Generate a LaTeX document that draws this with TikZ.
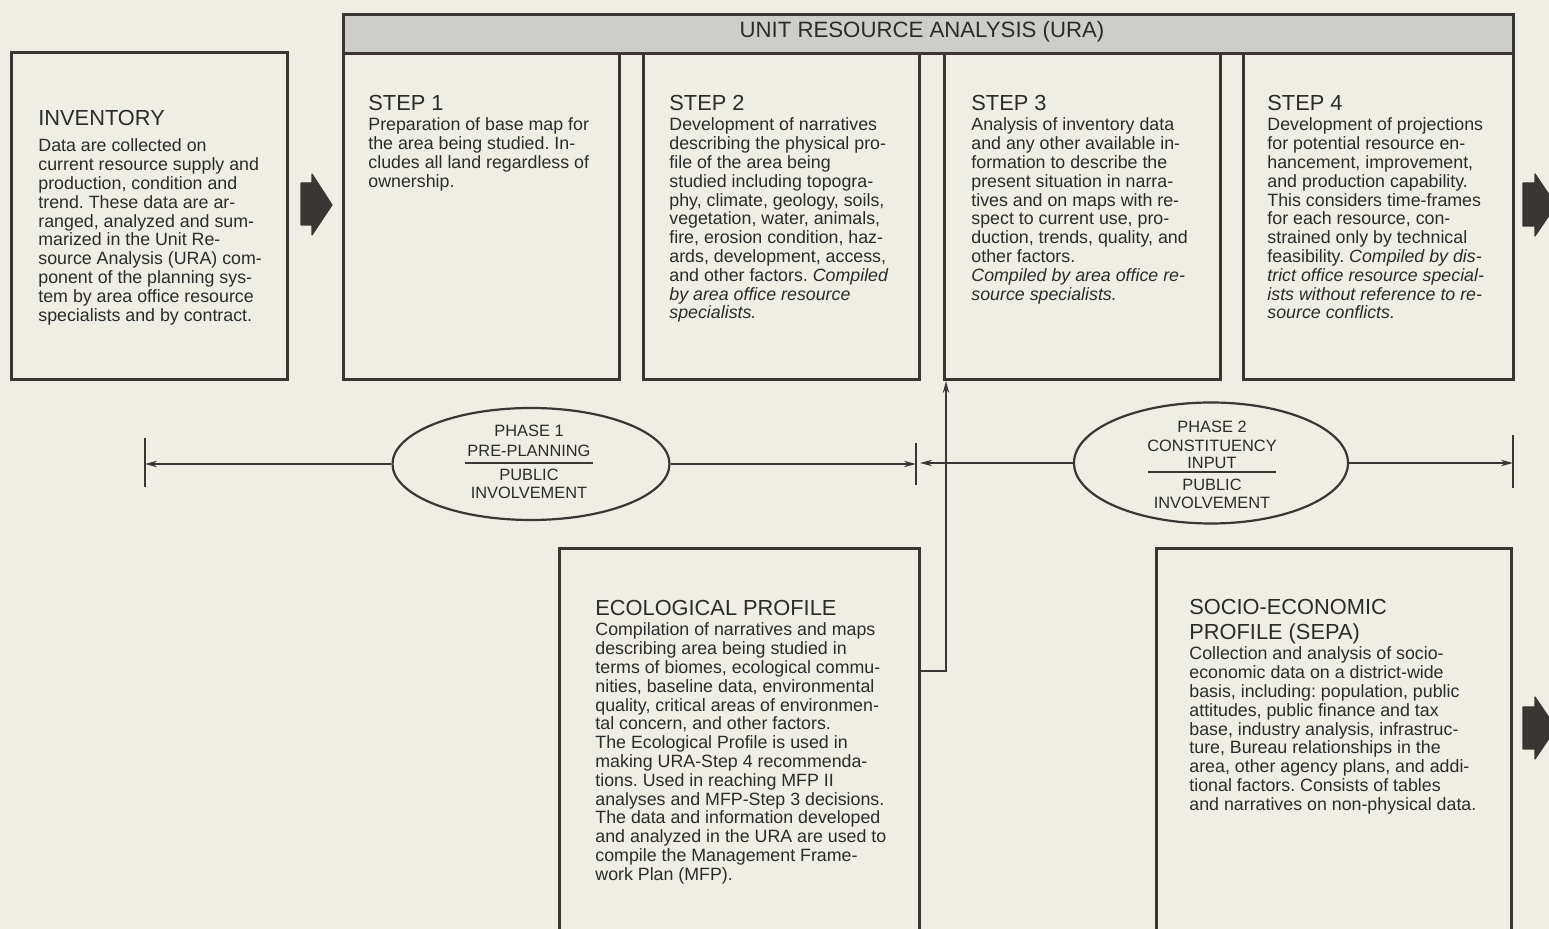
\documentclass[tikz,border=0pt]{standalone}
\usepackage{fontspec}
\setmainfont{Liberation Sans}
\usetikzlibrary{arrows.meta,shapes.geometric}
\definecolor{bg}{HTML}{EEEEE5}
\definecolor{hdr}{HTML}{CDCDC9}
\definecolor{ink}{HTML}{3A3633}
\definecolor{txt}{HTML}{2B2B2B}
\frenchspacing
\begin{document}
\begin{tikzpicture}[x=0.5pt,y=-0.5pt,
  box/.style={draw=ink,line width=1.5pt,rectangle,inner sep=0,anchor=north west},
  body/.style={anchor=north west,inner sep=0,align=left,text=txt,font=\fontsize{8.9}{9.4}\selectfont},
  ttl/.style={anchor=north west,inner sep=0,align=left,text=txt,font=\fontsize{10.9}{12.5}\selectfont},
  eltext/.style={inner sep=0,anchor=base,text=txt,font=\fontsize{8.2}{9.5}\selectfont},
  ell/.style={ellipse,draw=ink,line width=1.1pt,inner sep=0},
  conn/.style={draw=ink,line width=0.8pt,-{Stealth[length=6pt,width=3.2pt]}},
  bar/.style={draw=ink,line width=0.8pt},
  blockarrow/.style={fill=ink,draw=ink,line width=0.6pt,line join=round}
]
\useasboundingbox[fill=bg] (0,0) rectangle (1549,929);

% header of URA
\node[box,fill=hdr,minimum width=585pt,minimum height=19.5pt] (hdr) at (342,13) {};
\node[text=txt,font=\fontsize{11.1}{12.5}\selectfont,inner sep=0] (hdrt) at (922,32) {UNIT RESOURCE ANALYSIS (URA)};

% boxes
\node[box,minimum width=138pt,minimum height=163.5pt] (inv) at (10,51) {};
\node[box,minimum width=138pt,minimum height=163pt] (s1) at (342,52) {};
\node[box,minimum width=138pt,minimum height=163pt] (s2) at (642,52) {};
\node[box,minimum width=138pt,minimum height=163pt] (s3) at (943,52) {};
\node[box,minimum width=135pt,minimum height=163pt] (s4) at (1242,52) {};
\node[box,minimum width=180pt,minimum height=250pt] (eco) at (558,547) {};
\node[box,minimum width=177.5pt,minimum height=250pt] (sepa) at (1155,547) {};

% texts
\node[ttl] (invt) at (38,110) {INVENTORY};
\node[body] (invb) at (38,138.6) {Data are collected on\\current resource supply and\\production, condition and\\trend. These data are ar-\\ranged, analyzed and sum-\\marized in the Unit Re-\\source Analysis (URA) com-\\ponent of the planning sys-\\tem by area office resource\\specialists and by contract.};

\node[ttl] (s1t) at (368,95) {STEP 1};
\node[body] (s1b) at (368,117.6) {Preparation of base map for\\the area being studied. In-\\cludes all land regardless of\\ownership.};

\node[ttl] (s2t) at (669,95) {STEP 2};
\node[body] (s2b) at (669,117.6) {Development of narratives\\describing the physical pro-\\file of the area being\\studied including topogra-\\phy, climate, geology, soils,\\vegetation, water, animals,\\fire, erosion condition, haz-\\ards, development, access,\\and other factors. \textit{Compiled}\\\textit{by area office resource}\\\textit{specialists.}};

\node[ttl] (s3t) at (971,95) {STEP 3};
\node[body] (s3b) at (971,117.6) {Analysis of inventory data\\and any other available in-\\formation to describe the\\present situation in narra-\\tives and on maps with re-\\spect to current use, pro-\\duction, trends, quality, and\\other factors.\\\textit{Compiled by area office re-}\\\textit{source specialists.}};

\node[ttl] (s4t) at (1267,95) {STEP 4};
\node[body] (s4b) at (1267,117.6) {Development of projections\\for potential resource en-\\hancement, improvement,\\and production capability.\\This considers time-frames\\for each resource, con-\\strained only by technical\\feasibility. \textit{Compiled by dis-}\\\textit{trict office resource special-}\\\textit{ists without reference to re-}\\\textit{source conflicts.}};

\node[ttl] (ecot) at (595,600) {ECOLOGICAL PROFILE};
\node[body] (ecob) at (595,622.6) {Compilation of narratives and maps\\describing area being studied in\\terms of biomes, ecological commu-\\nities, baseline data, environmental\\quality, critical areas of environmen-\\tal concern, and other factors.\\The Ecological Profile is used in\\making URA-Step 4 recommenda-\\tions. Used in reaching MFP II\\analyses and MFP-Step 3 decisions.\\The data and information developed\\and analyzed in the URA are used to\\compile the Management Frame-\\work Plan (MFP).};

\node[ttl] (sepat) at (1189,599) {SOCIO-ECONOMIC\\PROFILE (SEPA)};
\node[body] (sepab) at (1189,646.6) {Collection and analysis of socio-\\economic data on a district-wide\\basis, including: population, public\\attitudes, public finance and tax\\base, industry analysis, infrastruc-\\ture, Bureau relationships in the\\area, other agency plans, and addi-\\tional factors. Consists of tables\\and narratives on non-physical data.};

% block arrows
\fill[blockarrow] (301,183) -- (312,183) -- (312,174) -- (332,205) -- (312,235) -- (312,225) -- (301,225) -- cycle;
\fill[blockarrow] (1523,183) -- (1535,183) -- (1535,174) -- (1556,205) -- (1535,236) -- (1535,226) -- (1523,226) -- cycle;
\fill[blockarrow] (1523,707) -- (1535,707) -- (1535,697) -- (1556,728) -- (1535,759) -- (1535,749) -- (1523,749) -- cycle;

% phase ellipses
\node[ell,minimum width=138.5pt,minimum height=56pt] (e1) at (531,464) {};
\node[eltext] (e1a) at (529,437) {PHASE 1};
\node[eltext] (e1b) at (529,457) {PRE-PLANNING};
\node[eltext] (e1c) at (529,481) {PUBLIC};
\node[eltext] (e1d) at (529,499) {INVOLVEMENT};
\draw[ink,line width=0.7pt] (465,463) -- (593,463);

\node[ell,minimum width=137pt,minimum height=60.5pt] (e2) at (1211,463) {};
\node[eltext] (e2a) at (1212,433) {PHASE 2};
\node[eltext] (e2b) at (1212,452) {CONSTITUENCY};
\node[eltext] (e2c) at (1212,469) {INPUT};
\node[eltext] (e2d) at (1212,491) {PUBLIC};
\node[eltext] (e2e) at (1212,509) {INVOLVEMENT};
\draw[ink,line width=0.7pt] (1148,472) -- (1276,472);

% bars
\coordinate (b1t) at (145,438); \coordinate (b1b) at (145,487);
\coordinate (b2t) at (916,443); \coordinate (b2b) at (916,485);
\coordinate (b3t) at (1513,435); \coordinate (b3b) at (1513,488);
\draw[bar] (b1t) -- (b1b);
\draw[bar] (b2t) -- (b2b);
\draw[bar] (b3t) -- (b3b);

% connectors
\draw[conn] (e1.west) -- (e1.west -| b1t);
\draw[conn] (e1.east) -- (e1.east -| b2t);
\draw[conn] (e2.west) -- ([xshift=2pt]e2.west -| b2t);
\draw[conn] (e2.east) -- (e2.east -| b3t);
\coordinate (k) at (946,671);
\draw[conn] (eco.east |- k) -- (k) -- (k |- s3.south);
\end{tikzpicture}
\end{document}
